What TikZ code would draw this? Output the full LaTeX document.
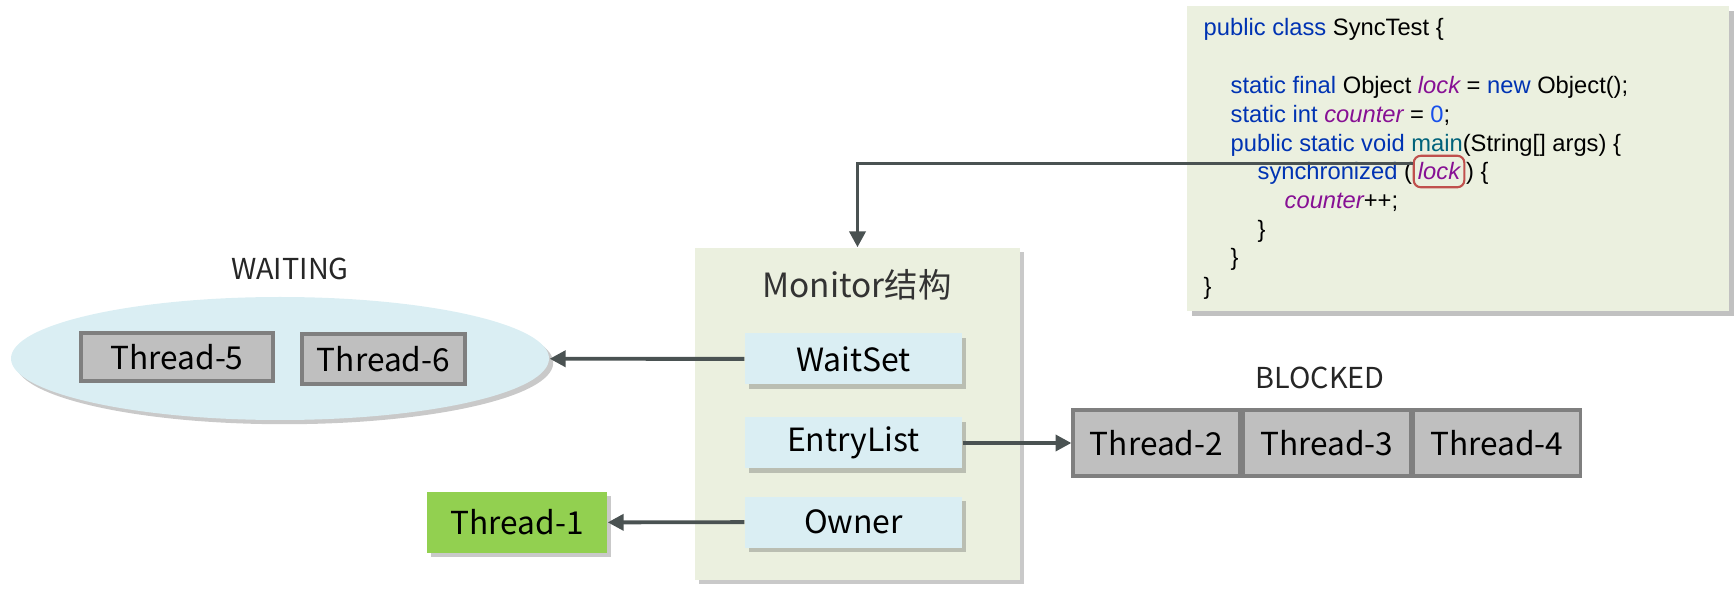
\documentclass[tikz,border=0pt]{standalone}
\usepackage{fontspec}
\setmainfont{Noto Sans CJK SC}
\newfontfamily\codefont{Liberation Sans}
\usetikzlibrary{arrows.meta,positioning,shapes.geometric,shadows}
\definecolor{panel}{HTML}{EBF0DF}
\definecolor{slot}{HTML}{DAEEF3}
\definecolor{thr}{HTML}{BFBFBF}
\definecolor{thrline}{HTML}{7F7F7F}
\definecolor{owned}{HTML}{92D050}
\definecolor{link}{HTML}{4A5252}
\definecolor{kwblue}{HTML}{0033B3}
\definecolor{fldpurple}{HTML}{871094}
\definecolor{mthteal}{HTML}{00627A}
\definecolor{numblue}{HTML}{1750EB}
\definecolor{marker}{HTML}{C0504D}
\newcommand{\jkw}[1]{\textcolor{kwblue}{#1}}
\newcommand{\jfld}[1]{\textcolor{fldpurple}{\itshape #1}}

\begin{document}
\begin{tikzpicture}[
      box/.style={align=center, font=\fontsize{9.1}{11}\selectfont, inner sep=0pt},
      shade/.style={drop shadow={shadow xshift=1.2pt, shadow yshift=-1.2pt, opacity=.3, fill=black!70}},
      slotbox/.style={box, fill=slot, minimum width=2.17cm, minimum height=0.51cm, shade},
      thread/.style={box, font=\fontsize{9}{11}\selectfont, fill=thr, draw=thrline, line width=0.9pt},
      state/.style={font=\fontsize{8.2}{10}\selectfont, text=black!85},
      code/.style={anchor=base west, inner sep=0pt, font=\codefont\fontsize{6.75}{8}\selectfont},
      arr/.style={-{Triangle[length=4.5pt,width=4.5pt]}, line width=1.1pt, link}]
    \useasboundingbox (0,0) rectangle (17.35,-5.98);
    \node[fill=panel, minimum width=5.42cm, minimum height=3.05cm, drop shadow={shadow xshift=1.5pt, shadow yshift=-1.5pt, opacity=.35, fill=black!70}] (src) at (14.58,-1.585) {};
    \node[code] (c1) at (12.03,-0.36) {\jkw{public class} SyncTest \{};
    \node[code] (c3) at (12.30,-0.94) {\jkw{static final} Object \jfld{lock} = \jkw{new} Object();};
    \node[code] (c4) at (12.30,-1.225) {\jkw{static int} \jfld{counter} = \textcolor{numblue}{0};};
    \node[code] (c5) at (12.30,-1.513) {\jkw{public static void} \textcolor{mthteal}{main}(String[] args) \{};
    \node[code] (c6) at (12.57,-1.80) {\jkw{synchronized} (};
    \node[code, draw=marker, rounded corners=2pt, inner xsep=1.2pt, inner ysep=2pt, line width=0.6pt] (lockbox) at (c6.base east) {\jfld{lock}};
    \node[code] (c6b) at (lockbox.base east) {) \{};
    \node[code] (c7) at (12.84,-2.087) {\jfld{counter}++;};
    \node[code] (c8) at (12.57,-2.373) {\}};
    \node[code] (c9) at (12.30,-2.657) {\}};
    \node[code] (c10) at (12.03,-2.945) {\}};
    \node[fill=panel, minimum width=3.25cm, minimum height=3.32cm, shade] (monitor) at (8.575,-4.14) {};
    \node[box, font=\fontsize{9.5}{11}\selectfont, text=black!80] (title) at (8.57,-2.85) {Monitor结构};
    \node[slotbox] (waitset) at (8.535,-3.59) {WaitSet};
    \node[slotbox] (entry) at (8.535,-4.43) {EntryList};
    \node[slotbox] (owner) at (8.535,-5.22) {Owner};
    \node[ellipse, fill=slot, minimum width=5.38cm, minimum height=1.23cm, shade] (waiting) at (2.80,-3.585) {};
    \node[state] (waitlbl) at (2.90,-2.69) {WAITING};
    \node[thread, minimum width=1.92cm, minimum height=0.48cm] (t5) at (1.77,-3.57) {Thread-5};
    \node[thread, minimum width=1.63cm, minimum height=0.50cm] (t6) at (3.835,-3.59) {Thread-6};
    \node[state] (blocklbl) at (13.20,-3.78) {BLOCKED};
    \node[thread, minimum width=1.67cm, minimum height=0.66cm] (t2) at (11.565,-4.43) {Thread-2};
    \node[thread, minimum width=1.67cm, minimum height=0.66cm, right=0pt of t2] (t3) {Thread-3};
    \node[thread, minimum width=1.67cm, minimum height=0.66cm, right=0pt of t3] (t4) {Thread-4};
    \node[box, font=\fontsize{9}{11}\selectfont, fill=owned, minimum width=1.80cm, minimum height=0.61cm, shade] (t1) at (5.17,-5.225) {Thread-1};
    \draw[arr] (lockbox.163) -| (monitor.north);
    \draw[arr] (waitset) -- (waiting);
    \draw[arr] (entry) -- (t2);
    \draw[arr] (owner) -- (t1);
  \end{tikzpicture}
\end{document}
